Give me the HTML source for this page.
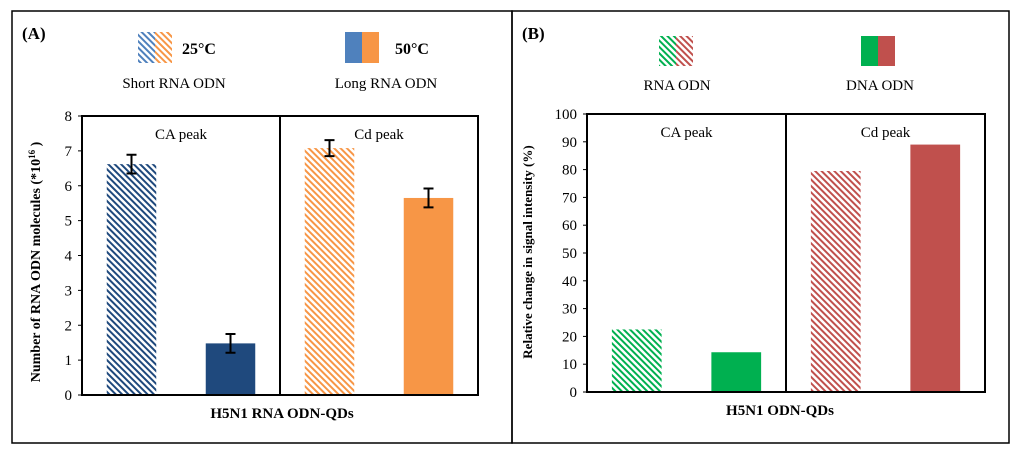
<!DOCTYPE html>
<html><head><meta charset="utf-8"><style>
html,body{margin:0;padding:0;background:#fff;width:1024px;height:454px;overflow:hidden}
svg text{font-family:"Liberation Serif",serif;fill:#000}
</style></head><body>
<svg id="fig" width="1024" height="454" viewBox="0 0 1024 454" xmlns="http://www.w3.org/2000/svg">
<defs>
<pattern id="hBlue" patternUnits="userSpaceOnUse" width="4.5" height="4.5" patternTransform="rotate(-45)"><rect width="4.5" height="4.5" fill="#fff"/><rect width="2" height="4.5" fill="#1f497d"/></pattern>
<pattern id="hBlueL" patternUnits="userSpaceOnUse" width="4.5" height="4.5" patternTransform="rotate(-45)"><rect width="4.5" height="4.5" fill="#fff"/><rect width="2" height="4.5" fill="#4f81bd"/></pattern>
<pattern id="hOrange" patternUnits="userSpaceOnUse" width="4.5" height="4.5" patternTransform="rotate(-45)"><rect width="4.5" height="4.5" fill="#fff"/><rect width="2" height="4.5" fill="#f79646"/></pattern>
<pattern id="hGreen" patternUnits="userSpaceOnUse" width="4.5" height="4.5" patternTransform="rotate(-45)"><rect width="4.5" height="4.5" fill="#fff"/><rect width="2" height="4.5" fill="#00b050"/></pattern>
<pattern id="hRed" patternUnits="userSpaceOnUse" width="4.5" height="4.5" patternTransform="rotate(-45)"><rect width="4.5" height="4.5" fill="#fff"/><rect width="2" height="4.5" fill="#c0504d"/></pattern>
</defs>
<rect x="12" y="11" width="500" height="432" fill="none" stroke="#000" stroke-width="1.5"/>
<rect x="512" y="11" width="497" height="432" fill="none" stroke="#000" stroke-width="1.5"/>
<g id="A"></g>
<g id="B"></g>
</svg>
<script>
// Panel A data
const catsA = ["CA peak","Cd peak"];
const seriesA = ["Short RNA ODN (25°C)","Long RNA ODN (50°C)"];
const valsA = [6.62, 1.48, 7.08, 5.65];
const errA = [0.27, 0.27, 0.23, 0.27];
const ticksA = [0,1,2,3,4,5,6,7,8];
// Panel B data
const catsB = ["CA peak","Cd peak"];
const valsB = [22.5, 14.3, 79.5, 89];
const ticksB = [0,10,20,30,40,50,60,70,80,90,100];

const NS="http://www.w3.org/2000/svg";
function mk(parent,tag,attrs,txt){const e=document.createElementNS(NS,tag);for(const k in attrs)e.setAttribute(k,attrs[k]);if(txt!==undefined)e.textContent=txt;parent.appendChild(e);return e;}

function drawPanel(g,cfg){
  const {left,right,top,bottom,max,ticks,vals,errs,fills,cats}=cfg;
  const y=v=>bottom-(v/max)*(bottom-top);
  const mid=(left+right)/2;
  const slot=(right-left)/4;
  const x=i=>left+slot*i+slot*0.25;
  const bw=slot*0.5;
  vals.forEach((v,i)=>{
    const r=mk(g,'rect',{x:x(i),y:y(v),width:bw,height:bottom-y(v),fill:fills[i]});
    
    
    if(errs){
      const cx=x(i)+bw/2,e=errs[i];
      const eb=mk(g,'path',{d:`M${cx},${y(v+e)}V${y(v-e)}M${cx-5},${y(v+e)}H${cx+5}M${cx-5},${y(v-e)}H${cx+5}`,stroke:'#000','stroke-width':2,fill:'none'});
      
      
    }
  });
  const box=mk(g,'rect',{x:left,y:top,width:right-left,height:bottom-top,fill:'none',stroke:'#000','stroke-width':2});
  
  
  const dv=mk(g,'line',{x1:mid,x2:mid,y1:top,y2:bottom,stroke:'#000','stroke-width':2});
  
  
  ticks.forEach(t=>{
    mk(g,'line',{x1:left-4,x2:left,y1:y(t),y2:y(t),stroke:'#000','stroke-width':1});
    const tl=mk(g,'text',{x:left-10,y:y(t)+5,'text-anchor':'end','font-size':15},t);
    
    
  });
  cats.forEach((c,i)=>{
    const t=mk(g,'text',{x:left+(right-left)*(0.25+0.5*i),y:top+23,'text-anchor':'middle','font-size':15},c);
    
    
  });
}
const A=document.getElementById('A'),B=document.getElementById('B');
drawPanel(A,{left:82,right:478,top:116,bottom:395,max:8,ticks:ticksA,vals:valsA,errs:errA,cats:catsA,
  fills:['url(#hBlue)','#1f497d','url(#hOrange)','#f79646']});
drawPanel(B,{left:587,right:985,top:114,bottom:392,max:100,ticks:ticksB,vals:valsB,errs:null,cats:catsB,
  fills:['url(#hGreen)','#00b050','url(#hRed)','#c0504d']});
</script>
<svg width="1024" height="454" style="position:absolute;left:0;top:0" xmlns="http://www.w3.org/2000/svg">
<g style="font-family:'Liberation Serif',serif">
<text x="22" y="39" font-size="17" font-weight="bold">(A)</text>
<rect x="138" y="32" width="17" height="31" fill="url(#hBlueL)"/>
<rect x="155" y="32" width="17" height="31" fill="url(#hOrange)"/>
<text x="182" y="54" font-size="16" font-weight="bold">25°C</text>
<rect x="345" y="32" width="17" height="31" fill="#4f81bd"/>
<rect x="362" y="32" width="17" height="31" fill="#f79646"/>
<text x="395" y="54" font-size="16" font-weight="bold">50°C</text>
<text x="174" y="88" font-size="15" text-anchor="middle">Short RNA ODN</text>
<text x="386" y="88" font-size="15" text-anchor="middle">Long RNA ODN</text>
<text x="282" y="418" font-size="15" font-weight="bold" text-anchor="middle">H5N1 RNA ODN-QDs</text>
<text transform="translate(40,262) rotate(-90)" font-size="14" font-weight="bold" text-anchor="middle">Number of RNA ODN molecules (*10<tspan dy="-5" font-size="9">16</tspan><tspan dy="5"> )</tspan></text>
</g>
<g style="font-family:'Liberation Serif',serif">
<text x="522" y="39" font-size="17" font-weight="bold">(B)</text>
<rect x="659" y="36" width="17" height="30" fill="url(#hGreen)"/>
<rect x="676" y="36" width="17" height="30" fill="url(#hRed)"/>
<rect x="861" y="36" width="17" height="30" fill="#00b050"/>
<rect x="878" y="36" width="17" height="30" fill="#c0504d"/>
<text x="677" y="90" font-size="15" text-anchor="middle">RNA ODN</text>
<text x="880" y="90" font-size="15" text-anchor="middle">DNA ODN</text>
<text x="780" y="415" font-size="15" font-weight="bold" text-anchor="middle">H5N1 ODN-QDs</text>
<text transform="translate(532,252) rotate(-90)" font-size="13" font-weight="bold" text-anchor="middle">Relative change in signal intensity (%)</text>
</g>
</svg>
</body></html>
